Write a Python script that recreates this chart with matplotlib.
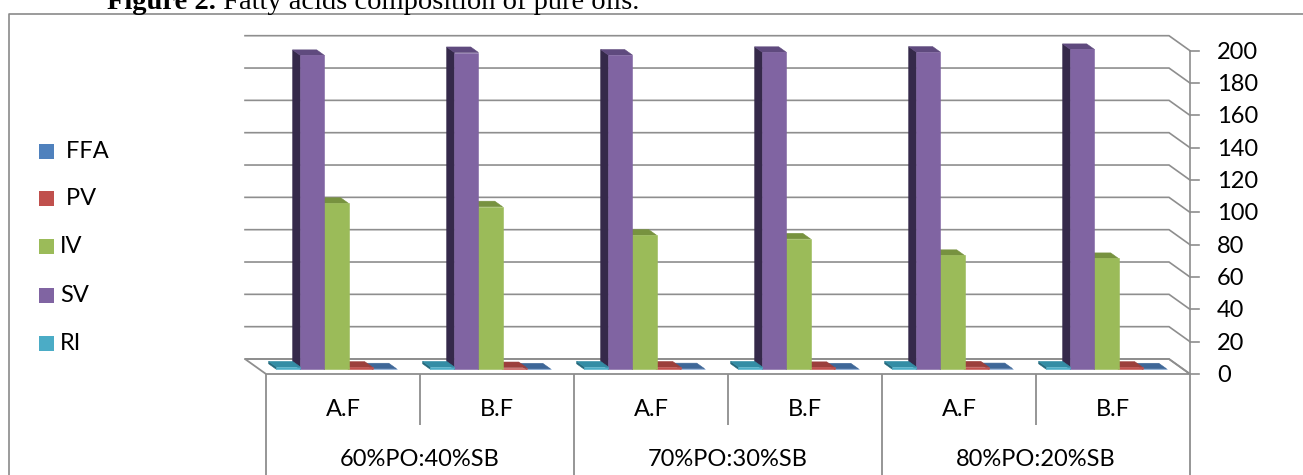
import matplotlib
matplotlib.use("Agg")
import matplotlib.pyplot as plt
from matplotlib.patches import Polygon, Rectangle

# ---------------------------------------------------------------- data
series = ["FFA", "PV", "IV", "SV", "RI"]
series_colors = {
    "FFA": ("#4F81BD", "#3E6798", "#2C4C72"),   # front, top, side
    "PV":  ("#C0504D", "#9C3F3C", "#772F2D"),
    "IV":  ("#9BBB59", "#77923F", "#5C722F"),
    "SV":  ("#8064A2", "#5F4A7E", "#35294A"),
    "RI":  ("#4BACC6", "#338DA5", "#24697C"),
}
blends = ["60%PO:40%SB", "70%PO:30%SB", "80%PO:20%SB"]
stages = ["A.F", "B.F"]

ffa = [0.35, 0.28, 0.40, 0.30, 0.45, 0.33]
pv = [1.3, 1.1, 1.4, 1.2, 1.5, 1.3]
iv = [102.7, 100.6, 83.0, 80.7, 70.5, 68.6]
sv = [194.2, 196.0, 194.4, 196.1, 196.2, 197.9]
ri = [1.46, 1.46, 1.46, 1.46, 1.46, 1.46]
values = {"FFA": ffa, "PV": pv, "IV": iv, "SV": sv, "RI": ri}

y_ticks = list(range(0, 201, 20))
y_max = 200

# ---------------------------------------------------------------- layout
W, H, DPI = 1303, 475, 100
FRONT_LEFT_PX, FRONT_RIGHT_PX = 266, 1190     # front edge of floor
ZERO_PX, TOP_PX = 374, 50.7                   # value 0 / value 200 on front axis
DEPTH_PX = (-21, 15)                          # back wall offset (x, up)
BAR_FRONT, BAR_BACK = 0.31, 0.68              # bar depth inside the floor
SLOT = 0.156                                  # bar width in category units

FONT = "Lato"
FS = 17
GRID = "#8E8E8E"

n_cat = len(blends) * len(stages)
px_cat = (FRONT_RIGHT_PX - FRONT_LEFT_PX) / n_cat
px_val = (ZERO_PX - TOP_PX) / y_max
DX = DEPTH_PX[0] / px_cat
DV = DEPTH_PX[1] / px_val

fig = plt.figure(figsize=(W / DPI, H / DPI), dpi=DPI)
fig.patch.set_facecolor("white")
ax = fig.add_axes([0, 0, 1, 1])
ax.set_axis_off()
ax.set_xlim(-FRONT_LEFT_PX / px_cat, (W - FRONT_LEFT_PX) / px_cat)
ax.set_ylim(-(H - ZERO_PX) / px_val, ZERO_PX / px_val)


def proj(x, v, d):
    """Oblique projection of (category x, value v, depth d) onto the axes."""
    return (x + d * DX, v + d * DV)


def px(xp, yp):
    """Pixel position (from top-left) to data coordinates."""
    return (xp / px_cat + ax.get_xlim()[0], (ZERO_PX - yp) / px_val)


# ---------------------------------------------------------------- frame
bx0, by0 = px(9, 14)
bx1, _ = px(W + 5, 14)
_, by1 = px(9, H + 5)
ax.plot([bx0, bx0, bx1], [by1, by0, by0], color="#8A8A8A", lw=1.2,
        solid_capstyle="butt", zorder=1)

# floor
floor = [proj(0, 0, 1), proj(n_cat, 0, 1), proj(n_cat, 0, 0), proj(0, 0, 0)]
ax.add_patch(Polygon(floor, closed=True, facecolor="white", edgecolor=GRID,
                     lw=1.3, zorder=2))

# back wall gridlines with their bend to the value axis
for t in y_ticks:
    pts = [proj(0, t, 1), proj(n_cat, t, 1), proj(n_cat, t, 0)]
    ax.plot([p[0] for p in pts], [p[1] for p in pts], color=GRID, lw=1.2,
            zorder=2, solid_joinstyle="miter")

# value axis
ax.plot([n_cat, n_cat], [0, y_max], color=GRID, lw=1.2, zorder=3)
tick_len = 9 / px_cat
lab_off = 27 / px_cat
for t in y_ticks:
    ax.plot([n_cat, n_cat + tick_len], [t, t], color=GRID, lw=1.2, zorder=3)
    ax.text(n_cat + lab_off, t - 1.0, str(t), ha="left", va="center",
            fontsize=FS, family=FONT, color="black")


# ---------------------------------------------------------------- bars
def box(x0, x1, v, front, top, side, z):
    fl = proj(x0, 0, BAR_FRONT)
    fr = proj(x1, 0, BAR_FRONT)
    flt = proj(x0, v, BAR_FRONT)
    frt = proj(x1, v, BAR_FRONT)
    bl = proj(x0, 0, BAR_BACK)
    blt = proj(x0, v, BAR_BACK)
    brt = proj(x1, v, BAR_BACK)
    kw = dict(closed=True, lw=0.4, zorder=z)
    ax.add_patch(Polygon([fl, bl, blt, flt], facecolor=side, edgecolor=side, **kw))
    ax.add_patch(Polygon([flt, frt, brt, blt], facecolor=top, edgecolor=top, **kw))
    ax.add_patch(Polygon([fl, fr, frt, flt], facecolor=front, edgecolor=front, **kw))


cluster = ["RI", "SV", "IV", "PV", "FFA"]
z = 5
for i in reversed(range(n_cat)):
    center = i + 0.5
    for k in reversed(range(len(cluster))):
        name = cluster[k]
        x0 = center + (k - len(cluster) / 2) * SLOT
        front, top, side = series_colors[name]
        box(x0, x0 + SLOT, values[name][i], front, top, side, z)
        z += 0.01

# ---------------------------------------------------------------- category table
bottom = ax.get_ylim()[0] - 5
inner_bottom = -(425 - ZERO_PX) / px_val
for i in range(n_cat + 1):
    yb = bottom if i % len(stages) == 0 else inner_bottom
    ax.plot([i, i], [0, yb], color=GRID, lw=1.3, zorder=3,
            solid_capstyle="butt")

stage_y = -(410 - ZERO_PX) / px_val
blend_y = -(460 - ZERO_PX) / px_val
for g, blend in enumerate(blends):
    for s, stage in enumerate(stages):
        i = g * len(stages) + s
        ax.text(i + 0.5, stage_y, stage, ha="center", va="center",
                fontsize=FS, family=FONT, color="black")
    ax.text(g * len(stages) + len(stages) / 2, blend_y, blend, ha="center",
            va="center", fontsize=FS, family=FONT, color="black")

# ---------------------------------------------------------------- legend
legend_rows = [151, 198, 246, 295, 343]
legend_labels = [" FFA", " PV", "IV", "SV", "RI"]
for name, label, yp in zip(series, legend_labels, legend_rows):
    x0, y0 = px(39, yp + 7.5)
    x1, y1 = px(54, yp - 7.5)
    ax.add_patch(Rectangle((x0, y0), x1 - x0, y1 - y0,
                           facecolor=series_colors[name][0], edgecolor="none",
                           zorder=4))
    tx, ty = px(60, yp)
    ax.text(tx, ty - 0.6, label, ha="left", va="center", fontsize=FS,
            family=FONT, color="black")

# ---------------------------------------------------------------- caption
cx, cy = px(107, 9)
head = ax.text(cx, cy, "Figure 2.", ha="left", va="baseline", fontsize=20.5,
               family="Liberation Serif", weight="bold", color="black")
fig.canvas.draw()
bb = head.get_window_extent()
inv = ax.transData.inverted()
hx, _ = inv.transform((bb.x1, bb.y0))
ax.text(hx, cy, " Fatty acids composition of pure oils.", ha="left",
        va="baseline", fontsize=20.5, family="Liberation Serif",
        color="black")

fig.savefig("out.png", dpi=DPI, facecolor="white")
